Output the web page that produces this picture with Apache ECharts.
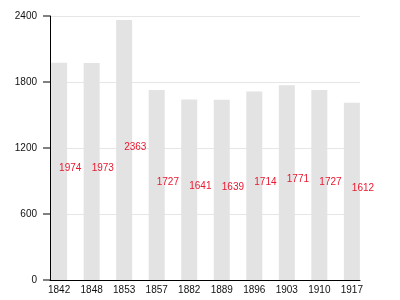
<!DOCTYPE html>
<html>
<head>
<meta charset="utf-8">
<script src="https://cdn.jsdelivr.net/npm/echarts@6/dist/echarts.min.js"></script>
<style>
html,body{margin:0;padding:0;background:#fff;}
#c{width:400px;height:300px;}
</style>
</head>
<body>
<div id="c"></div>
<script>
var years = ['1842','1848','1853','1857','1882','1889','1896','1903','1910','1917'];
var population = [1974, 1973, 2363, 1727, 1641, 1639, 1714, 1771, 1727, 1612];
var yTicks = [0, 600, 1200, 1800, 2400];

var positions = years.map(function(_, i){ return i; });
var chart = echarts.init(document.getElementById('c'), null, {renderer: 'canvas'});
chart.setOption({
  animation: false,
  backgroundColor: '#fff',
  textStyle: {fontFamily: 'Liberation Sans, Arial, sans-serif'},
  grid: {left: 50, right: 40, top: 16, bottom: 20, containLabel: false},
  xAxis: {
    type: 'value',
    min: -0.28,
    max: 9.25,
    z: 4,
    splitLine: {show: false},
    axisTick: {show: false},
    axisLine: {show: true, onZero: false, lineStyle: {color: '#000', width: 1}},
    axisLabel: {
      customValues: positions,
      formatter: function(v){ return years[Math.round(v)]; },
      color: '#111',
      fontSize: 10,
      margin: 5,
      fontFamily: 'Liberation Sans, Arial, sans-serif'
    }
  },
  yAxis: [{
    type: 'value',
    min: yTicks[0],
    max: yTicks[yTicks.length - 1],
    interval: 600,
    z: 4,
    axisLine: {show: true, onZero: false, lineStyle: {color: '#000', width: 1}},
    axisTick: {show: false},
    splitLine: {show: false},
    axisLabel: {
      color: '#111',
      fontSize: 10,
      margin: 0,
      formatter: function(v){ return '{v|' + v + '}{t|}'; },
      rich: {
        v: {fontSize: 10, color: '#111', fontFamily: 'Liberation Sans, Arial, sans-serif', padding: [0, 6, 0, 0]},
        t: {width: 7, height: 1, backgroundColor: '#000'}
      },
      fontFamily: 'Liberation Sans, Arial, sans-serif'
    }
  }, {
    type: 'value',
    position: 'left',
    min: yTicks[0],
    max: yTicks[yTicks.length - 1],
    interval: 600,
    z: 0,
    axisLine: {show: false, onZero: false},
    axisTick: {show: false},
    axisLabel: {show: false},
    splitLine: {show: true, lineStyle: {color: '#e6e6e6', width: 1}}
  }],
  series: [{
    type: 'bar',
    barWidth: 16,
    yAxisIndex: 0,
    data: population.map(function(v, i){ return [positions[i], v]; }),
    itemStyle: {color: '#e3e3e3'},
    label: {
      show: true,
      position: 'inside',
      align: 'left',
      verticalAlign: 'middle',
      offset: [0, -3],
      color: '#e8182e',
      fontSize: 10,
      fontFamily: 'Liberation Sans, Arial, sans-serif',
      formatter: function(p){ return p.value[1]; }
    }
  }]
});
</script>
</body>
</html>
